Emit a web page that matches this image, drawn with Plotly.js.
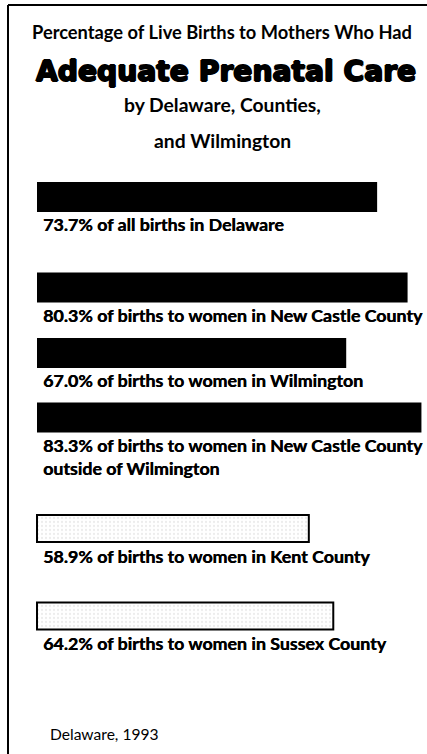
<!DOCTYPE html>
<html>
<head>
<meta charset="utf-8">
<script src="https://cdn.plot.ly/plotly-3.0.1.min.js"></script>
<style>html,body{margin:0;padding:0;background:#fff;}#chart{width:427px;height:754px;}</style>
</head>
<body>
<div id="chart"></div>
<script>
// ---- data ----
const categories = ['Delaware', 'New Castle County', 'Wilmington', 'New Castle County outside of Wilmington', 'Kent County', 'Sussex County'];
const percentages = [73.7, 80.3, 67.0, 83.3, 58.9, 64.2];
const labelSuffix = [
  ' of all births in Delaware',
  ' of births to women in New Castle County',
  ' of births to women in Wilmington',
  ' of births to women in New Castle County<br>outside of Wilmington',
  ' of births to women in Kent County',
  ' of births to women in Sussex County'
];
const barStyle = ['solid', 'solid', 'solid', 'solid', 'speckled', 'speckled'];
const titleLines = ['Percentage of Live Births to Mothers Who Had', 'Adequate Prenatal Care', 'by Delaware, Counties,', 'and Wilmington'];
const footnote = 'Delaware, 1993';

// ---- layout helpers (pixel-based positions) ----
const W = 427, H = 754;
const pxPerPct = 4.615;
const barLeft = 37;
const rowCenter = [197, 287.5, 353, 417.5, 528.5, 616];
const FONT = 'Lato, "Open Sans", sans-serif';
const HEAVY = '"DejaVu Sans", Lato, sans-serif';

const solid = barStyle.map(s => s === 'solid');
const trace = {
  type: 'bar',
  orientation: 'h',
  x: percentages,
  y: rowCenter,
  width: solid.map(s => s ? 30 : 27),
  hoverinfo: 'x',
  marker: {
    color: solid.map(s => s ? '#000000' : '#ededed'),
    line: {color: '#000000', width: solid.map(s => s ? 0 : 2)},
    pattern: {
      shape: solid.map(s => s ? '' : '.'),
      fgcolor: '#555555',
      bgcolor: '#efefef',
      size: 4,
      solidity: 0.25,
      fillmode: 'replace'
    }
  }
};

const annotations = [];
percentages.forEach((v, i) => {
  annotations.push({
    xref: 'x', yref: 'y', x: 0, y: rowCenter[i] + 14,
    xanchor: 'left', yanchor: 'top', xshift: 4, showarrow: false, align: 'left',
    text: '<b>' + v.toFixed(1) + '%' + labelSuffix[i] + '</b>',
    font: {family: FONT, size: 17.8, color: '#000', shadow: '0.4px 0 0 #000'}
  });
});
const titleY = [31.5, 71, 104, 140];
const titleSize = [18.3, 28.2, 19.3, 19.3];
const titleFamily = [FONT, HEAVY, FONT, FONT];
const titleShadow = ['none', '1px 0 0 #000, -1px 0 0 #000, 0 0.7px 0 #000, 0 -0.7px 0 #000', 'none', 'none'];
titleLines.forEach((t, i) => {
  annotations.push({
    xref: 'paper', yref: 'y', x: (i === 1 ? 225.5 : 222) / W, y: titleY[i],
    xanchor: 'center', yanchor: 'middle', showarrow: false,
    text: '<b>' + t + '</b>',
    font: {family: titleFamily[i], size: titleSize[i], color: '#000', shadow: titleShadow[i]}
  });
});
annotations.push({
  xref: 'paper', yref: 'y', x: 48 / W, y: 734,
  xanchor: 'left', yanchor: 'middle', showarrow: false,
  text: footnote,
  font: {family: FONT, size: 15.6, color: '#000'}
});

const layout = {
  width: W, height: H,
  margin: {l: 0, r: 0, t: 0, b: 0, pad: 0},
  paper_bgcolor: '#ffffff', plot_bgcolor: '#ffffff',
  showlegend: false,
  xaxis: {range: [-barLeft / pxPerPct, (W - barLeft) / pxPerPct], visible: false, fixedrange: true},
  yaxis: {range: [H, 0], visible: false, fixedrange: true},
  bargap: 0,
  annotations: annotations,
  shapes: [
    {type: 'line', xref: 'paper', yref: 'paper', x0: 8 / W, x1: 8 / W, y0: 0, y1: 1 - 5 / H, line: {color: '#000', width: 2}},
    {type: 'line', xref: 'paper', yref: 'paper', x0: 8 / W, x1: 1, y0: 1 - 5 / H, y1: 1 - 5 / H, line: {color: '#000', width: 2}}
  ]
};

Plotly.newPlot('chart', [trace], layout, {displayModeBar: false, staticPlot: true});
</script>
</body>
</html>
